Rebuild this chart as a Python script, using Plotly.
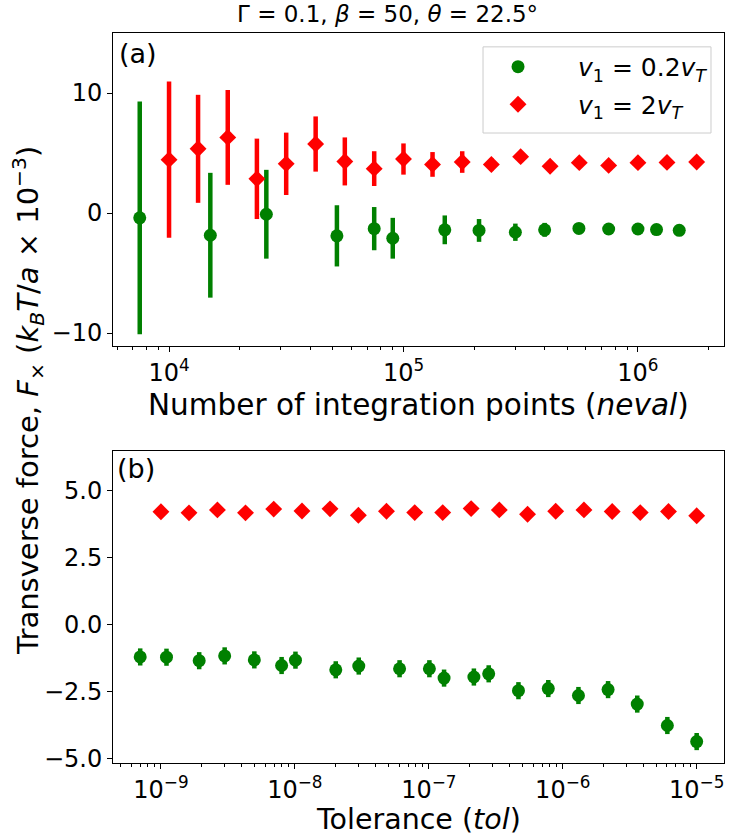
import plotly.graph_objects as go

# ---------------- data: panel (a) ----------------
neval_green = [7500, 15000, 26000, 52000, 75000, 90000, 150000, 210000, 300000,
               400000, 560000, 750000, 1000000, 1200000, 1500000]
force_green_a = [-0.4, -1.85, -0.1, -1.9, -1.3, -2.1, -1.4, -1.45, -1.6,
                 -1.4, -1.28, -1.33, -1.33, -1.38, -1.44]
err_green_a = [9.7, 5.2, 3.7, 2.55, 1.8, 1.7, 1.2, 0.95, 0.72,
               0.58, 0.4, 0.3, 0.25, 0.22, 0.2]

neval_red = [10000, 13300, 17800, 23700, 31600, 42200, 56200, 75000, 100000,
             133000, 178000, 237000, 316000, 422000, 562000, 750000, 1000000,
             1330000, 1780000]
force_red_a = [4.45, 5.35, 6.3, 2.85, 4.1, 5.75, 4.3, 3.7, 4.5,
               4.05, 4.25, 4.05, 4.7, 3.9, 4.2, 3.97, 4.2, 4.22, 4.25]
err_red_a = [6.5, 4.5, 3.95, 3.35, 2.6, 2.3, 2.0, 1.45, 1.3,
             1.03, 0.9, 0.5, 0.45, 0.4, 0.35, 0.3, 0.28, 0.25, 0.22]

# ---------------- data: panel (b) ----------------
tol_green = [7.0e-10, 1.1e-9, 1.93e-9, 2.99e-9, 4.98e-9, 7.96e-9, 1.01e-8,
             2.02e-8, 3.0e-8, 6.05e-8, 1.01e-7, 1.3e-7, 2.17e-7, 2.8e-7,
             4.67e-7, 7.8e-7, 1.31e-6, 2.18e-6, 3.6e-6, 6.04e-6, 1.0e-5]
force_green_b = [-1.21, -1.22, -1.35, -1.17, -1.32, -1.53, -1.33, -1.69, -1.55,
                 -1.65, -1.65, -2.0, -1.96, -1.84, -2.47, -2.39, -2.65, -2.43,
                 -2.97, -3.77, -4.37]
err_green_b = [0.32, 0.32, 0.32, 0.32, 0.32, 0.32, 0.32, 0.32, 0.32, 0.32,
               0.32, 0.32, 0.32, 0.32, 0.32, 0.32, 0.32, 0.32, 0.32, 0.32, 0.32]

tol_red = [1.0e-9, 1.62e-9, 2.64e-9, 4.28e-9, 6.95e-9, 1.13e-8, 1.83e-8,
           2.98e-8, 4.83e-8, 7.85e-8, 1.27e-7, 2.07e-7, 3.36e-7, 5.46e-7,
           8.86e-7, 1.44e-6, 2.34e-6, 3.79e-6, 6.16e-6, 1.0e-5]
force_red_b = [4.21, 4.17, 4.28, 4.17, 4.31, 4.24, 4.32, 4.08, 4.23, 4.18,
               4.18, 4.33, 4.28, 4.12, 4.23, 4.28, 4.22, 4.18, 4.22, 4.06]
err_red_b = [0.12, 0.12, 0.12, 0.12, 0.12, 0.12, 0.12, 0.12, 0.12, 0.12,
             0.12, 0.12, 0.12, 0.12, 0.12, 0.12, 0.12, 0.12, 0.12, 0.12]

# ---------------- tick labels ----------------
xa_tickvals = [1e4, 1e5, 1e6]
xa_ticktext = ["10<sup>4</sup>", "10<sup>5</sup>", "10<sup>6</sup>"]
ya_tickvals = [-10, 0, 10]
ya_ticktext = ["\u221210", "0", "10"]
xb_tickvals = [1e-9, 1e-8, 1e-7, 1e-6, 1e-5]
xb_ticktext = ["10<sup>\u22129</sup>", "10<sup>\u22128</sup>", "10<sup>\u22127</sup>",
               "10<sup>\u22126</sup>", "10<sup>\u22125</sup>"]
yb_tickvals = [-5, -2.5, 0, 2.5, 5]
yb_ticktext = ["\u22125.0", "\u22122.5", "0.0", "2.5", "5.0"]

label_green = "\u2002\u2002<i>v</i><sub>1</sub> = 0.2<i>v</i><sub><i>T</i></sub>"
label_red = "\u2002\u2002<i>v</i><sub>1</sub> = 2<i>v</i><sub><i>T</i></sub>"

GREEN = "#008000"
RED = "#ff0000"
FONT = "DejaVu Sans"
TICK = 24
TITLE = 29.5

minor_a = [m * 10 ** e for e in range(3, 7) for m in range(2, 10)]
minor_b = [m * 10.0 ** e for e in range(-10, -4) for m in range(2, 10)]

fig = go.Figure()

def add(x, y, e, color, symbol, size, name, xa, ya, show, grp):
    fig.add_trace(go.Scatter(
        x=x, y=y, mode="markers", name=name, showlegend=show, legendgroup=grp,
        xaxis=xa, yaxis=ya,
        marker=dict(color=color, symbol=symbol, size=size, line=dict(width=0)),
        error_y=dict(type="data", array=e, visible=True, color=color,
                     thickness=4.5, width=0),
    ))

add(neval_green, force_green_a, err_green_a, GREEN, "circle", 13, label_green, "x", "y", True, "g")
add(neval_red, force_red_a, err_red_a, RED, "diamond", 13, label_red, "x", "y", True, "r")
add(tol_green, force_green_b, err_green_b, GREEN, "circle", 13, label_green, "x2", "y2", False, "g")
add(tol_red, force_red_b, err_red_b, RED, "diamond", 13, label_red, "x2", "y2", False, "r")

axis_common = dict(showline=True, mirror=True, linecolor="black", linewidth=1,
                   ticks="outside", ticklen=5, tickwidth=1, tickcolor="black",
                   showgrid=False, zeroline=False,
                   tickfont=dict(family=FONT, size=TICK, color="black"))

fig.update_layout(
    width=729, height=838,
    margin=dict(l=113, r=5, t=33, b=75),
    paper_bgcolor="white", plot_bgcolor="white",
    font=dict(family=FONT, size=TICK, color="black"),
    showlegend=True,
    legend=dict(x=0.6056, y=0.985, xanchor="left", yanchor="top",
                bgcolor="rgba(0,0,0,0)", borderwidth=0,
                font=dict(family=FONT, size=25),
                itemwidth=60, tracegroupgap=2),
    xaxis=dict(type="log", range=[3.761, 6.367], domain=[0, 1], anchor="y",
               tickmode="array", tickvals=xa_tickvals, ticktext=xa_ticktext,
               minor=dict(tickvals=minor_a, ticks="outside", ticklen=3,
                          tickcolor="black", tickwidth=1),
               **axis_common),
    yaxis=dict(range=[-11.08, 15.0], domain=[0.5712, 1.0], anchor="x",
               tickmode="array", tickvals=ya_tickvals, ticktext=ya_ticktext,
               **axis_common),
    xaxis2=dict(type="log", range=[-9.358, -4.796], domain=[0, 1], anchor="y2",
                tickmode="array", tickvals=xb_tickvals, ticktext=xb_ticktext,
                minor=dict(tickvals=minor_b, ticks="outside", ticklen=3,
                           tickcolor="black", tickwidth=1),
                **axis_common),
    yaxis2=dict(range=[-5.17, 6.48], domain=[0.0, 0.4274], anchor="x2",
                tickmode="array", tickvals=yb_tickvals, ticktext=yb_ticktext,
                **axis_common),
)

# legend frame (matplotlib-style light grey box)
fig.add_shape(type="rect", xref="paper", yref="paper",
              x0=0.6056, x1=0.9787, y0=0.863, y1=0.981,
              line=dict(color="#cccccc", width=1), fillcolor="rgba(255,255,255,0.8)",
              layer="below")

# x-axis titles
fig.add_annotation(text="Number of integration points (<i>neval</i>)",
                   xref="paper", yref="paper", x=0.5, y=0.491,
                   xanchor="center", yanchor="middle", showarrow=False,
                   font=dict(family=FONT, size=TITLE, color="black"))
fig.add_annotation(text="Tolerance (<i>tol</i>)",
                   xref="paper", yref="paper", x=0.5, y=-0.0775,
                   xanchor="center", yanchor="middle", showarrow=False,
                   font=dict(family=FONT, size=28.5, color="black"))
# title
fig.add_annotation(text="\u0393 = 0.1, <i>\u03b2</i> = 50, <i>\u03b8</i> = 22.5\u00b0",
                   xref="paper", yref="paper", x=0.45, y=1.0, yanchor="bottom",
                   yshift=4, showarrow=False,
                   font=dict(family=FONT, size=23, color="black"))
# shared y title
fig.add_annotation(text="Transverse force, <i>F</i><sub>\u00d7</sub> (<i>k</i><sub><i>B</i></sub><i>T</i>/<i>a</i> \u00d7 10<sup>\u22123</sup>)",
                   xref="paper", yref="paper", x=-0.139, y=0.496,
                   xanchor="center", yanchor="middle", textangle=-90,
                   showarrow=False, font=dict(family=FONT, size=29, color="black"))
# panel labels
fig.add_annotation(text="(a)", xref="paper", yref="paper", x=0.006, y=0.996,
                   xanchor="left", yanchor="top", showarrow=False,
                   font=dict(family=FONT, size=27, color="black"))
fig.add_annotation(text="(b)", xref="paper", yref="paper", x=0.003, y=0.428,
                   xanchor="left", yanchor="top", showarrow=False,
                   font=dict(family=FONT, size=27, color="black"))

fig.write_html("out.html")
